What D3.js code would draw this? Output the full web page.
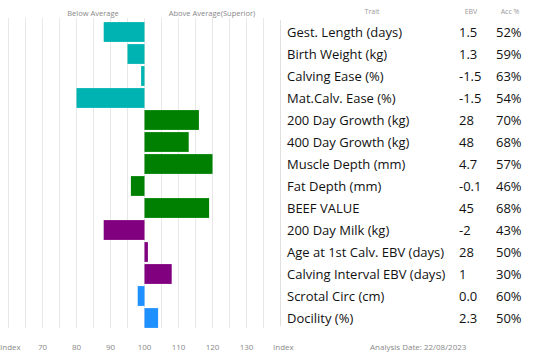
<!DOCTYPE html>
<html>
<head>
<meta charset="utf-8">
<script src="https://cdn.jsdelivr.net/npm/d3@7"></script>
<style>
  body { margin: 0; background: #fff; }
  svg { display: block; font-family: "Open Sans", sans-serif; }
</style>
</head>
<body>
<svg id="chart" width="550" height="362"></svg>
<script>
// trait rows, top to bottom
const traits = ["Gest. Length (days)", "Birth Weight (kg)", "Calving Ease (%)", "Mat.Calv. Ease (%)",
  "200 Day Growth (kg)", "400 Day Growth (kg)", "Muscle Depth (mm)", "Fat Depth (mm)", "BEEF VALUE",
  "200 Day Milk (kg)", "Age at 1st Calv. EBV (days)", "Calving Interval EBV (days)", "Scrotal Circ (cm)", "Docility (%)"];
const indexValues = [88, 95, 99, 80, 116, 113, 120, 96, 119, 88, 101, 108, 98, 104];
const ebv = ["1.5", "1.3", "-1.5", "-1.5", "28", "48", "4.7", "-0.1", "45", "-2", "28", "1", "0.0", "2.3"];
const acc = ["52%", "59%", "63%", "54%", "70%", "68%", "57%", "46%", "68%", "43%", "50%", "30%", "60%", "50%"];
const groups = ["calving", "calving", "calving", "calving", "growth", "growth", "growth", "growth", "growth",
  "maternal", "maternal", "maternal", "fertility", "fertility"];
const tickLabels = [70, 80, 90, 100, 110, 120, 130];

const color = d3.scaleOrdinal()
  .domain(["calving", "growth", "maternal", "fertility"])
  .range(["#00b3b3", "#008000", "#800080", "#1e90ff"]);

const svg = d3.select("#chart");

// index scale: 60..135
const x = d3.scaleLinear().domain([60, 135]).range([8.5, 263.5]);
const y = d3.scaleBand().domain(traits).range([21, 329]).paddingInner(0.1).paddingOuter(0.05);

// grid lines every 5
svg.append("g")
  .selectAll("line")
  .data(d3.range(60, 136, 5))
  .join("line")
    .attr("x1", d => x(d)).attr("x2", d => x(d))
    .attr("y1", 18).attr("y2", 328)
    .attr("stroke", "#e8e8e8")
    .attr("stroke-width", 1);

// bars
svg.append("g")
  .selectAll("rect")
  .data(traits)
  .join("rect")
    .attr("x", (d, i) => x(Math.min(100, indexValues[i])))
    .attr("y", d => y(d))
    .attr("width", (d, i) => Math.abs(x(indexValues[i]) - x(100)))
    .attr("height", y.bandwidth())
    .attr("fill", (d, i) => color(groups[i]));

// headers
svg.append("text").attr("x", 93).attr("y", 16).attr("text-anchor", "middle")
  .attr("font-size", 7.5).attr("fill", "#888").text("Below Average");
svg.append("text").attr("x", 212).attr("y", 16).attr("text-anchor", "middle")
  .attr("font-size", 7.5).attr("fill", "#888").text("Above Average(Superior)");
svg.append("text").attr("x", 372).attr("y", 14).attr("text-anchor", "middle")
  .attr("font-size", 7).attr("fill", "#999").text("Trait");
svg.append("text").attr("x", 471).attr("y", 14).attr("text-anchor", "middle")
  .attr("font-size", 7).attr("fill", "#999").text("EBV");
svg.append("text").attr("x", 510).attr("y", 14).attr("text-anchor", "middle")
  .attr("font-size", 7).attr("fill", "#999").text("Acc %");

// table separator
svg.append("line").attr("x1", 280.5).attr("x2", 280.5).attr("y1", 20).attr("y2", 326)
  .attr("stroke", "#e0e0e0");

// table rows
const rows = svg.append("g").attr("font-size", 13).attr("fill", "#111")
  .selectAll("g")
  .data(traits)
  .join("g")
    .attr("transform", d => `translate(0,${y(d) + y.bandwidth() / 2})`);

rows.append("text").attr("x", 287).attr("dy", "0.35em").text(d => d);
rows.append("text").attr("x", 459).attr("dy", "0.35em").text((d, i) => ebv[i]);
rows.append("text").attr("x", 496).attr("dy", "0.35em").text((d, i) => acc[i]);

// bottom axis labels
const axis = svg.append("g").attr("font-size", 8).attr("fill", "#888");
axis.selectAll("text.tick")
  .data(tickLabels)
  .join("text")
    .attr("class", "tick")
    .attr("x", d => x(d))
    .attr("y", 350)
    .attr("text-anchor", "middle")
    .text(d => d);
axis.append("text").attr("x", 0).attr("y", 350).text("Index");
axis.append("text").attr("x", 273).attr("y", 350).text("Index");
axis.append("text").attr("x", 370).attr("y", 350).text("Analysis Date: 22/08/2023");
</script>
</body>
</html>
